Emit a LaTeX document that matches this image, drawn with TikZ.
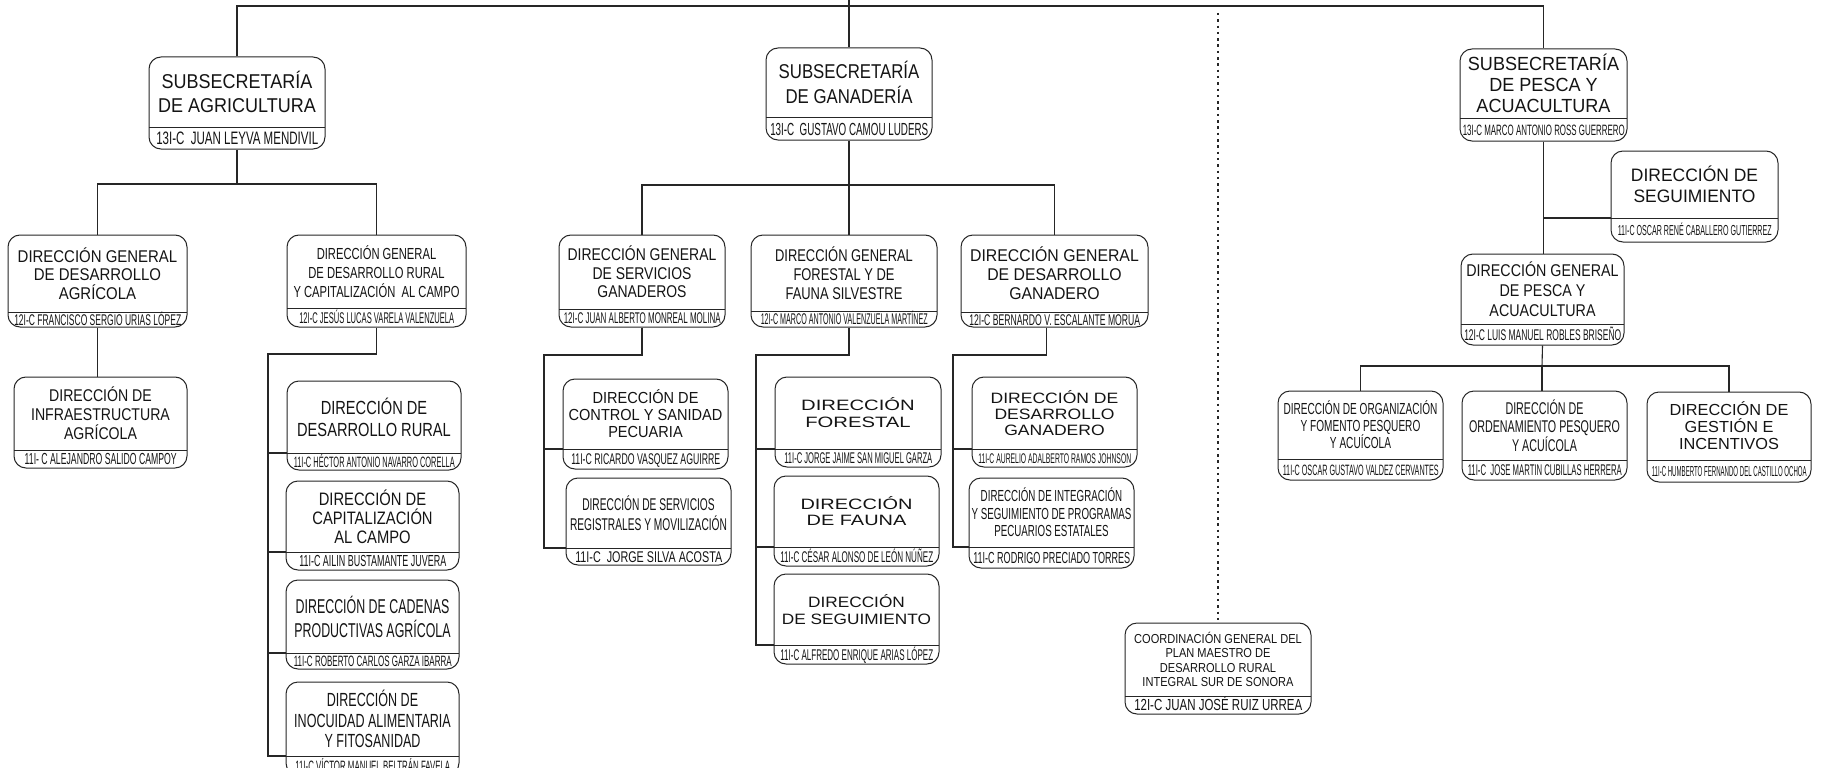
\documentclass[tikz,border=0pt]{standalone}
\usepackage{fontspec}
\setmainfont{Liberation Sans}
\usetikzlibrary{calc}
\newsavebox\fitbox
\newlength\fitlen
\newcommand\fitw[2]{\sbox\fitbox{#2}\setlength\fitlen{\wd\fitbox}\pgfmathsetmacro\fitk{#1/\fitlen}\scalebox{\fitk}[1]{\usebox\fitbox}}
\newcommand\tfnt[3]{\fontspec[FakeStretch=#2]{Liberation Sans}\fontsize{#1}{#3}\selectfont}
\tikzset{
  ob/.style={draw=black!85, line width=1pt, rounded corners=12pt, inner sep=0pt},
  dv/.style={draw=black!85, line width=0.9pt},
  cn/.style={draw=black!85, line width=1.1pt},
  dt/.style={draw=black!85, line width=1.8pt, dash pattern=on 2.5pt off 3.8pt},
  tt/.style={align=center, inner sep=0pt, text=black!92},
  nt/.style={inner sep=0pt, text depth=0pt, text=black!92},
}
% id, x1, y1, x2, y2, ydiv, font, title
\newcommand\obox[8]{%
  \node[ob, minimum width={#4-#2}, minimum height={#5-#3}] (#1) at ({(#2+#4)/2},{(#3+#5)/2}) {};
  \coordinate (#1-dl) at (#2,#6);
  \coordinate (#1-dr) at (#4,#6);
  \draw[dv] (#1-dl) -- (#1-dr);
  \node[tt, font={#7}] (#1-t) at ({(#2+#4)/2},{(#3+#6)/2}) {#8};
}
% id, width, size, text
\newcommand\oname[4]{%
  \node[nt, font={\fontsize{#3}{#3}\selectfont}, text height={0.716*#3pt}] (#1-n) at ($(#1-dl)!0.5!(#1.south east)$) {\fitw{#2}{#4}};
}
\begin{document}
\begin{tikzpicture}[x=1pt,y=-1pt]
\fill[white] (0,0) rectangle (1824,768);
\useasboundingbox (0,0) rectangle (1824,768);

% Subsecretarias
\obox{agr}{149}{57}{325}{149}{127}{\tfnt{20}{0.9}{24}}{SUBSECRETARÍA\\DE AGRICULTURA}
\oname{agr}{162}{18}{13I-C~~JUAN LEYVA MENDIVIL}
\obox{gan}{766}{48}{932}{140}{117}{\tfnt{20}{0.84}{25}}{SUBSECRETARÍA\\DE GANADERÍA}
\oname{gan}{158}{17.5}{13I-C~~GUSTAVO CAMOU LUDERS}
\obox{pes}{1460}{49}{1627}{141}{118}{\tfnt{19}{0.95}{21}}{SUBSECRETARÍA\\DE PESCA Y\\ACUACULTURA}
\oname{pes}{162}{15}{13I-C MARCO ANTONIO ROSS GUERRERO}

% Agricultura
\obox{dga}{8}{235}{187}{327}{312}{\tfnt{17}{0.88}{18.5}}{DIRECCIÓN GENERAL\\DE DESARROLLO\\AGRÍCOLA}
\oname{dga}{167}{15.5}{12I-C FRANCISCO SERGIO URIAS LÓPEZ}
\obox{dgr}{287}{235}{466}{327}{308}{\tfnt{16}{0.7}{19}}{DIRECCIÓN GENERAL\\DE DESARROLLO RURAL\\Y CAPITALIZACIÓN~~AL CAMPO}
\oname{dgr}{155}{15.5}{12I-C JESÚS LUCAS VARELA VALENZUELA}
\obox{infra}{14}{377}{187}{468}{450}{\tfnt{17}{0.83}{19}}{DIRECCIÓN DE\\INFRAESTRUCTURA\\AGRÍCOLA}
\oname{infra}{152}{16}{11I- C ALEJANDRO SALIDO CAMPOY}
\obox{drural}{287}{381}{461}{470}{453}{\tfnt{19}{0.77}{22}}{DIRECCIÓN DE\\DESARROLLO RURAL}
\oname{drural}{161}{15}{11I-C HÉCTOR ANTONIO NAVARRO CORELLA}
\obox{dcap}{286}{481}{459}{570}{552}{\tfnt{18}{0.82}{19}}{DIRECCIÓN DE\\CAPITALIZACIÓN\\AL CAMPO}
\oname{dcap}{147}{16}{11I-C AILIN BUSTAMANTE JUVERA}
\obox{dcad}{286}{580}{459}{669}{653}{\tfnt{20}{0.62}{24}}{DIRECCIÓN DE CADENAS\\PRODUCTIVAS AGRÍCOLA}
\oname{dcad}{158}{15}{11I-C ROBERTO CARLOS GARZA IBARRA}
\obox{dino}{286}{682}{459}{775}{756}{\tfnt{19}{0.66}{20.5}}{DIRECCIÓN DE\\INOCUIDAD ALIMENTARIA\\Y FITOSANIDAD}
\oname{dino}{155}{15}{11I-C VÍCTOR MANUEL BELTRÁN FAVELA}

% Ganaderia
\obox{dgs}{559}{235}{725}{327}{309}{\tfnt{17}{0.82}{18.5}}{DIRECCIÓN GENERAL\\DE SERVICIOS\\GANADEROS}
\oname{dgs}{157}{15.5}{12I-C JUAN ALBERTO MONREAL MOLINA}
\obox{dgf}{751}{235}{937}{327}{311}{\tfnt{17}{0.76}{19}}{DIRECCIÓN GENERAL\\FORESTAL Y DE\\FAUNA SILVESTRE}
\oname{dgf}{167}{15.5}{12I-C MARCO ANTONIO VALENZUELA MARTÍNEZ}
\obox{dgd}{961}{235}{1148}{327}{312}{\tfnt{17}{0.93}{19}}{DIRECCIÓN GENERAL\\DE DESARROLLO\\GANADERO}
\oname{dgd}{171}{15.5}{12I-C BERNARDO V. ESCALANTE MORUA}
\obox{dcs}{563}{379}{728}{469}{449}{\tfnt{16}{0.91}{17}}{DIRECCIÓN DE\\CONTROL Y SANIDAD\\PECUARIA}
\oname{dcs}{149}{15.5}{11I-C RICARDO VASQUEZ AGUIRRE}
\obox{dsr}{566}{478}{731}{565}{548}{\tfnt{17}{0.6}{20}}{DIRECCIÓN DE SERVICIOS\\REGISTRALES Y MOVILIZACIÓN}
\oname{dsr}{147}{15.5}{11I-C~~JORGE SILVA ACOSTA}
\obox{dfor}{775}{377}{941}{467}{449}{\tfnt{15}{1.35}{17}}{DIRECCIÓN\\FORESTAL}
\oname{dfor}{148}{15.5}{11I-C JORGE JAIME SAN MIGUEL GARZA}
\obox{dfau}{774}{476}{939}{566}{547}{\tfnt{15}{1.33}{16}}{DIRECCIÓN\\DE FAUNA}
\oname{dfau}{153}{15.5}{11I-C CÉSAR ALONSO DE LEÓN NÚÑEZ}
\obox{dseg}{774}{574}{939}{664}{645}{\tfnt{15}{1.15}{17}}{DIRECCIÓN\\DE SEGUIMIENTO}
\oname{dseg}{153}{15.5}{11I-C ALFREDO ENRIQUE ARIAS LÓPEZ}
\obox{ddg}{972}{377}{1137}{467}{449}{\tfnt{15}{1.17}{16}}{DIRECCIÓN DE\\DESARROLLO\\GANADERO}
\oname{ddg}{153}{14}{11I-C AURELIO ADALBERTO RAMOS JOHNSON}
\obox{dint}{969}{478}{1134}{568}{547}{\tfnt{16}{0.61}{17.5}}{DIRECCIÓN DE INTEGRACIÓN\\Y SEGUIMIENTO DE PROGRAMAS\\PECUARIOS ESTATALES}
\oname{dint}{157}{16}{11I-C RODRIGO PRECIADO TORRES}

% Coordinacion
\obox{coord}{1125}{623}{1311}{714}{696}{\tfnt{13}{0.85}{14.3}}{COORDINACIÓN GENERAL DEL\\PLAN MAESTRO DE\\DESARROLLO RURAL\\INTEGRAL SUR DE SONORA}
\oname{coord}{168}{16}{12I-C JUAN JOSÉ RUIZ URREA}

% Pesca
\obox{dsegp}{1611}{151}{1778}{242}{218}{\tfnt{18}{0.97}{21}}{DIRECCIÓN DE\\SEGUIMIENTO}
\oname{dsegp}{154}{14.5}{11I-C OSCAR RENÉ CABALLERO GUTIERREZ}
\obox{dgp}{1461}{254}{1624}{345}{324}{\tfnt{17}{0.84}{20}}{DIRECCIÓN GENERAL\\DE PESCA Y\\ACUACULTURA}
\oname{dgp}{157}{15.5}{12I-C LUIS MANUEL ROBLES BRISEÑO}
\obox{dorg}{1278}{391}{1443}{480}{459}{\tfnt{16}{0.63}{17}}{DIRECCIÓN DE ORGANIZACIÓN\\Y FOMENTO PESQUERO\\Y ACUÍCOLA}
\oname{dorg}{156}{15}{11I-C OSCAR GUSTAVO VALDEZ CERVANTES}
\obox{dord}{1462}{391}{1627}{480}{460}{\tfnt{17}{0.63}{18.5}}{DIRECCIÓN DE\\ORDENAMIENTO PESQUERO\\Y ACUÍCOLA}
\oname{dord}{154}{15.5}{11I-C~~JOSE MARTIN CUBILLAS HERRERA}
\obox{dges}{1647}{392}{1811}{482}{460}{\tfnt{16}{1.02}{17}}{DIRECCIÓN DE\\GESTIÓN E\\INCENTIVOS}
\oname{dges}{155}{14.5}{11I-C HUMBERTO FERNANDO DEL CASTILLO OCHOA}

% ---------- connectors ----------
\coordinate (top) at (849,0);
\coordinate (hub) at (849,6);
\draw[cn] (top) -- (gan.north);
\draw[cn] (agr.north) |- (hub) -| (pes.north);
\coordinate (dtop) at (1218,13);
\draw[dt] (dtop) -- (dtop |- coord.north);

% agricultura
\coordinate (agrbus) at (237,184);
\draw[cn] (agr.south) -- (agrbus);
\draw[cn] (dga.north) |- (agrbus) -| (dgr.north);
\draw[cn] (dga.south) -- (dga.south |- infra.north);
\coordinate (rbus) at (268,354);
\draw[cn] (dgr.south) |- (rbus) |- (dino-dl);
\draw[cn] (rbus |- drural-dl) -- (drural-dl);
\draw[cn] (rbus |- dcap-dl) -- (dcap-dl);
\draw[cn] (rbus |- dcad-dl) -- (dcad-dl);

% ganaderia
\coordinate (gbus) at (849,185);
\draw[cn] (gan.south) -- (gbus);
\draw[cn] (dgs.north) |- (gbus) -| (dgd.north);
\draw[cn] (gbus) -- (gbus |- dgf.north);
\coordinate (sbus) at (544,355);
\draw[cn] (dgs.south) |- (sbus) |- (dsr-dl);
\draw[cn] (sbus |- dcs-dl) -- (dcs-dl);
\coordinate (fbus) at (756,355);
\draw[cn] (dgf.south -| gbus) |- (fbus) |- (dseg-dl);
\draw[cn] (fbus |- dfor-dl) -- (dfor-dl);
\draw[cn] (fbus |- dfau-dl) -- (dfau-dl);
\coordinate (dbus) at (953,355);
\draw[cn] ([xshift=-8pt]dgd.south) |- (dbus) |- (dint-dl);
\draw[cn] (dbus |- ddg-dl) -- (ddg-dl);

% pesca
\draw[cn] (pes.south) -- (pes.south |- dgp.north);
\draw[cn] (pes.south |- dsegp-dl) -- (dsegp-dl);
\coordinate (pbus) at (1542,366);
\draw[cn] (dgp.south) -- (pbus);
\draw[cn] (dorg.north) |- (pbus) -| (dges.north);
\draw[cn] (pbus) -- (pbus |- dord.north);
\end{tikzpicture}
\end{document}
